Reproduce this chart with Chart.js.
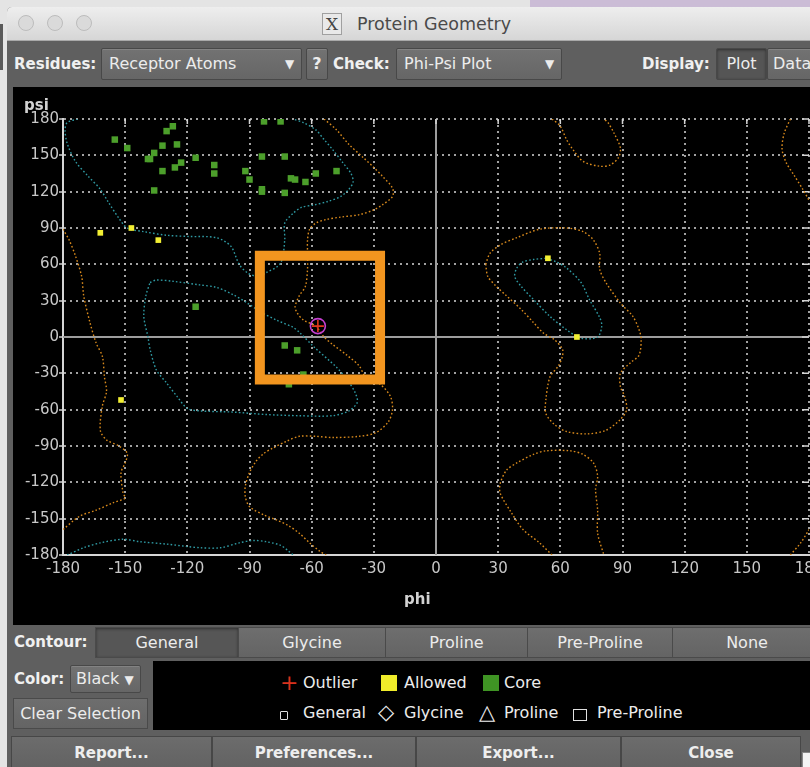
<!DOCTYPE html>
<html>
<head>
<meta charset="utf-8">
<title>Protein Geometry</title>
<script src="https://cdn.jsdelivr.net/npm/chart.js@4/dist/chart.umd.min.js"></script>
<style>
  html, body { margin: 0; padding: 0; width: 810px; height: 767px; overflow: hidden; background: #e4e4e4; font-family: "DejaVu Sans", sans-serif; }
  .a { position: absolute; box-sizing: border-box; }
  .lbl { color: #f0f0f0; font-weight: bold; font-size: 15px; white-space: nowrap; }
  .txt { color: #ececec; font-size: 16px; white-space: nowrap; }
  .box { background: linear-gradient(#727272, #666666); border: 1px solid #484848; border-radius: 2px; box-shadow: inset 0 1px 0 rgba(255,255,255,0.12); color: #ececec; font-size: 16px; white-space: nowrap; }
  .btn { background: linear-gradient(#6e6e6e, #646464); border: 1px solid #4a4a4a; color: #ececec; font-size: 16px; text-align: center; white-space: nowrap; }
  .sel { background: #565656; box-shadow: inset 0 1px 3px rgba(0,0,0,0.45); }
  .bbtn { background: linear-gradient(#6c6c6c, #626262); border: 1px solid #474747; color: #eeeeee; font-size: 15px; font-weight: bold; text-align: center; white-space: nowrap; }
</style>
</head>
<body>
<!-- desktop behind the window -->
<div class="a" style="left:0;top:24px;width:3px;height:46px;background:#5a5a5a"></div>
<div class="a" style="left:530px;top:0;width:280px;height:8px;background:#cbbcd6"></div>

<!-- window -->
<div class="a" style="left:7px;top:7px;width:820px;height:780px;background:#5f5f5f;border-radius:5px 5px 0 0"></div>
<div class="a" style="left:7px;top:7px;width:820px;height:34px;background:linear-gradient(#eeeeee,#d6d6d6);border-radius:5px 5px 0 0;border-bottom:1px solid #a9a9a9"></div>
<div class="a" style="left:18px;top:15px;width:16px;height:16px;border-radius:50%;background:#dadada;border:1px solid #bcbcbc"></div>
<div class="a" style="left:47px;top:15px;width:16px;height:16px;border-radius:50%;background:#dadada;border:1px solid #bcbcbc"></div>
<div class="a" style="left:76px;top:15px;width:16px;height:16px;border-radius:50%;background:#dadada;border:1px solid #bcbcbc"></div>
<div class="a" style="left:322px;top:13px;width:20px;height:22px;background:#e9e9e9;border:1px solid #a0a0a0;color:#444;font-family:'DejaVu Serif',serif;font-size:17px;line-height:20px;text-align:center">X</div>
<div class="a" style="left:357px;top:12px;height:24px;line-height:24px;color:#4a4a4a;font-size:17.5px">Protein Geometry</div>

<!-- toolbar -->
<div class="a lbl" style="left:14px;top:52px;line-height:24px">Residues:</div>
<div class="a box" style="left:101px;top:48px;width:201px;height:32px;line-height:30px;padding-left:7px">Receptor Atoms<span style="position:absolute;left:183px;font-size:12px">▼</span></div>
<div class="a box" style="left:306px;top:48px;width:22px;height:32px;line-height:30px;text-align:center;font-weight:bold">?</div>
<div class="a lbl" style="left:333px;top:52px;line-height:24px">Check:</div>
<div class="a box" style="left:396px;top:48px;width:166px;height:32px;line-height:30px;padding-left:7px">Phi-Psi Plot<span style="position:absolute;left:148px;font-size:12px">▼</span></div>
<div class="a lbl" style="left:642px;top:52px;line-height:24px">Display:</div>
<div class="a box sel" style="left:716px;top:48px;width:51px;height:32px;line-height:30px;text-align:center;background:#555">Plot</div>
<div class="a box" style="left:767px;top:48px;width:60px;height:32px;line-height:30px;padding-left:5px">Data</div>

<!-- plot panel -->
<div class="a" style="left:13px;top:87px;width:830px;height:538px;background:#000">
  <canvas id="rama" width="830" height="538" style="display:block"></canvas>
</div>

<!-- contour selector -->
<div class="a lbl" style="left:14px;top:630px;line-height:24px">Contour:</div>
<div class="a btn sel" style="left:95px;top:627px;width:144px;height:31px;line-height:29px">General</div>
<div class="a btn" style="left:238px;top:627px;width:148px;height:31px;line-height:29px">Glycine</div>
<div class="a btn" style="left:385px;top:627px;width:143px;height:31px;line-height:29px">Proline</div>
<div class="a btn" style="left:527px;top:627px;width:146px;height:31px;line-height:29px">Pre-Proline</div>
<div class="a btn" style="left:672px;top:627px;width:150px;height:31px;line-height:29px">None</div>

<!-- colour and selection -->
<div class="a lbl" style="left:14px;top:667px;line-height:24px">Color:</div>
<div class="a box" style="left:70px;top:665px;width:71px;height:28px;line-height:26px;padding-left:5px">Black <span style="font-size:12px">▼</span></div>
<div class="a btn" style="left:13px;top:698px;width:135px;height:31px;line-height:29px">Clear Selection</div>

<!-- legend -->
<div class="a" style="left:153px;top:661px;width:660px;height:69px;background:#000"></div>
<div class="a" style="left:280px;top:670px;color:#d8321e;font-size:22px;line-height:26px">+</div>
<div class="a txt" style="left:303px;top:671px;line-height:24px">Outlier</div>
<div class="a" style="left:381px;top:675px;width:16px;height:16px;background:#f0ec2a"></div>
<div class="a txt" style="left:404px;top:671px;line-height:24px">Allowed</div>
<div class="a" style="left:483px;top:675px;width:16px;height:16px;background:#3f9424"></div>
<div class="a txt" style="left:504px;top:671px;line-height:24px">Core</div>
<div class="a" style="left:280px;top:711px;width:8px;height:9px;border:1.5px solid #e0e0e0;border-radius:1px"></div>
<div class="a txt" style="left:303px;top:701px;line-height:24px">General</div>
<div class="a txt" style="left:378px;top:700px;line-height:24px;font-size:21px">◇</div>
<div class="a txt" style="left:404px;top:701px;line-height:24px">Glycine</div>
<div class="a txt" style="left:479px;top:700px;line-height:24px;font-size:21px">△</div>
<div class="a txt" style="left:504px;top:701px;line-height:24px">Proline</div>
<div class="a" style="left:573px;top:709px;width:14px;height:12px;border:1.5px solid #e0e0e0"></div>
<div class="a txt" style="left:597px;top:701px;line-height:24px">Pre-Proline</div>

<!-- dialog buttons -->
<div class="a bbtn" style="left:11px;top:736px;width:201px;height:34px;line-height:32px">Report...</div>
<div class="a bbtn" style="left:212px;top:736px;width:204px;height:34px;line-height:32px">Preferences...</div>
<div class="a bbtn" style="left:416px;top:736px;width:205px;height:34px;line-height:32px">Export...</div>
<div class="a bbtn" style="left:621px;top:736px;width:180px;height:34px;line-height:32px">Close</div>
<div class="a" style="left:802px;top:752px;width:10px;height:16px;background:#f4f4f4;border:1px solid #888"></div>

<script>
// Axis ticks (degrees)
const tickValues = [-180, -150, -120, -90, -60, -30, 0, 30, 60, 90, 120, 150, 180];

// General-case favoured (core) contour, [phi, psi]
const coreBeta = [[-173,180],[-178,177],[-179,171],[-178,160],[-174,145],[-168,133],[-162,122],[-158,111],[-153,98],[-149,90],[-141,87],[-130,84],[-119,83],[-106,82],[-99,75],[-95,60],[-91,53],[-86,50],[-82,53],[-75,61],[-73,80],[-73,94],[-69,102],[-65,107],[-59,109],[-52,112],[-46,116],[-42,122],[-40,128],[-41,135],[-45,144],[-50,155],[-54,163],[-58,171],[-64,177],[-69,180]];
const coreBetaWrap = [[-178,-180],[-170,-174],[-162,-170],[-151,-167],[-143,-169],[-130,-171],[-114,-174],[-104,-174],[-95,-170],[-88,-168],[-82,-169],[-75,-172],[-71,-177],[-69,-180]];
const coreAlpha = [[-138,45],[-135,47],[-127,46],[-114,43],[-106,41],[-98,35],[-91,28],[-84,20],[-77,14],[-69,8],[-66,4],[-59,-8],[-48,-25],[-43,-35],[-39,-46],[-38,-54],[-42,-61],[-50,-65],[-66,-65],[-82,-64],[-98,-62],[-114,-61],[-120,-59],[-125,-49],[-130,-38],[-135,-27],[-138,-10],[-139,0],[-141,17],[-140,34],[-138,45]];
const coreLeftAlpha = [[53,65],[47,64],[42,62],[39,57],[38,50],[41,42],[47,31],[55,17],[63,6],[70,-1],[78,0],[80,9],[79,16],[74,31],[70,45],[63,57],[58,62],[53,65]];

// General-case allowed contour, [phi, psi]
const allowedMain = [[-54,180],[-48,171],[-42,159],[-35,148],[-30,140],[-26,133],[-21,123],[-21,116],[-26,109],[-30,105],[-37,101],[-46,99],[-53,97],[-58,94],[-61,89],[-62,80],[-62,70],[-62,56],[-63,42],[-66,34],[-68,25],[-67,20],[-64,14],[-58,9],[-54,0],[-50,-6],[-43,-15],[-37,-24],[-34,-33],[-27,-39],[-22,-49],[-21,-60],[-23,-70],[-29,-79],[-37,-82],[-50,-83],[-58,-82],[-66,-82],[-72,-86],[-79,-92],[-83,-96],[-87,-103],[-90,-112],[-92,-123],[-92,-132],[-90,-140],[-83,-147],[-77,-151],[-71,-156],[-66,-162],[-61,-170],[-56,-177],[-53,-180]];
const allowedEdgeLeft = [[-180,89],[-177,80],[-174,67],[-171,50],[-170,34],[-167,12],[-164,-5],[-161,-16],[-160,-33],[-159,-45],[-161,-57],[-162,-77],[-159,-85],[-153,-90],[-149,-96],[-150,-104],[-152,-112],[-151,-129],[-150,-133],[-156,-137],[-164,-143],[-172,-148],[-180,-159]];
const allowedEdgeTopRight = [[171,180],[168,168],[167,155],[169,144],[173,133],[177,122],[180,113]];
const allowedEdgeBottomRight = [[171,-180],[176,-170],[180,-159]];
const allowedGammaTop = [[56,180],[60,174],[63,163],[66,155],[71,145],[79,141],[84,142],[88,148],[89,156],[86,168],[83,177],[81,180]];
const allowedGammaBottom = [[56,-180],[50,-170],[42,-159],[36,-144],[31,-129],[31,-121],[34,-110],[39,-104],[47,-97],[53,-94],[65,-94],[71,-97],[76,-104],[78,-115],[77,-126],[78,-143],[78,-162],[81,-180]];
const allowedLeftAlpha = [[24,60],[26,69],[31,76],[39,82],[50,89],[63,90],[71,87],[76,80],[79,69],[79,56],[82,45],[89,28],[95,17],[98,6],[99,-2],[98,-15],[94,-21],[89,-30],[89,-41],[91,-49],[92,-60],[89,-68],[82,-77],[73,-80],[63,-78],[57,-72],[53,-63],[53,-52],[55,-33],[59,-24],[61,-16],[61,-10],[57,-2],[52,3],[47,12],[41,23],[34,34],[29,42],[25,50],[24,60]];

// Residue phi/psi angles by classification
const coreResidues = [[-155,163],[-149,156],[-127,174],[-130,170],[-132,158],[-125,159],[-136,152],[-139,147],[-138,147],[-123,144],[-126,140],[-132,137],[-116,148],[-107,142],[-107,135],[-136,121],[-83,178],[-75,178],[-84,149],[-73,149],[-92,137],[-90,130],[-84,122],[-84,120],[-73,119],[-70,131],[-68,130],[-63,128],[-58,135],[-48,137],[-116,25],[-73,-7],[-67,-11],[-71,-39],[-64,-31]];
const allowedResidues = [[-162,86],[-147,90],[-134,80],[-152,-52],[54,65],[68,0]];
const outlierResidues = [[-57,9]];

// Current selection rectangle: phi range, psi range
const selectionPhi = [-85, -27];
const selectionPsi = [-35, 67];

const pts = a => a.map(([x, y]) => ({ x, y }));

const CORE_LINE = '#2f9aa3';
const ALLOWED_LINE = '#d98a1c';

function contour(data, color) {
  return {
    data: pts(data), showLine: true, pointRadius: 0, borderColor: color,
    borderWidth: 1.4, borderDash: [1.6, 2.2], tension: 0.3, fill: false, order: 3
  };
}

const selBox = [
  [selectionPhi[0], selectionPsi[0]], [selectionPhi[0], selectionPsi[1]],
  [selectionPhi[1], selectionPsi[1]], [selectionPhi[1], selectionPsi[0]],
  [selectionPhi[0], selectionPsi[0]]
];

const datasets = [
  { data: pts(selBox), showLine: true, pointRadius: 0, borderColor: '#f2951f', borderWidth: 10,
    borderCapStyle: 'square', borderJoinStyle: 'miter', tension: 0, fill: false, order: 0 },
  { data: pts(outlierResidues), pointStyle: 'circle', pointRadius: 7.5, pointBorderWidth: 1.6,
    pointBorderColor: '#c43fcf', pointBackgroundColor: 'rgba(0,0,0,0)', order: 0 },
  { data: pts(outlierResidues), pointStyle: 'cross', pointRadius: 6, pointBorderWidth: 1.6,
    pointBorderColor: '#e2371c', order: 0 },
  { data: pts(coreResidues), pointStyle: 'rect', pointRadius: 4.6, pointBorderWidth: 0,
    pointBackgroundColor: '#4c9f2b', order: 1 },
  { data: pts(allowedResidues), pointStyle: 'rect', pointRadius: 4, pointBorderWidth: 0,
    pointBackgroundColor: '#f2ef33', order: 1 },
  contour(coreBeta, CORE_LINE),
  contour(coreBetaWrap, CORE_LINE),
  contour(coreAlpha, CORE_LINE),
  contour(coreLeftAlpha, CORE_LINE),
  contour(allowedMain, ALLOWED_LINE),
  contour(allowedEdgeLeft, ALLOWED_LINE),
  contour(allowedEdgeTopRight, ALLOWED_LINE),
  contour(allowedEdgeBottomRight, ALLOWED_LINE),
  contour(allowedGammaTop, ALLOWED_LINE),
  contour(allowedGammaBottom, ALLOWED_LINE),
  contour(allowedLeftAlpha, ALLOWED_LINE)
];

// Zero axes, inner ticks on the top/right edges and the axis names
const frame = {
  id: 'frame',
  beforeDatasetsDraw(chart) {
    const { ctx, chartArea: a, scales: { x, y } } = chart;
    ctx.save();
    ctx.strokeStyle = '#9d9d9d';
    ctx.lineWidth = 2;
    const x0 = x.getPixelForValue(0), y0 = y.getPixelForValue(0);
    ctx.beginPath();
    ctx.moveTo(x0, a.top); ctx.lineTo(x0, a.bottom);
    ctx.moveTo(a.left, y0); ctx.lineTo(a.right, y0);
    ctx.stroke();
    ctx.strokeStyle = '#d4d4d4';
    ctx.lineWidth = 1.5;
    ctx.beginPath();
    x.ticks.forEach(t => { const p = x.getPixelForValue(t.value); ctx.moveTo(p, a.top); ctx.lineTo(p, a.top + 5); });
    y.ticks.forEach(t => { const p = y.getPixelForValue(t.value); ctx.moveTo(a.right - 7, p); ctx.lineTo(a.right, p); });
    ctx.stroke();
    ctx.restore();
  },
  afterDraw(chart) {
    const { ctx, chartArea: a } = chart;
    ctx.save();
    ctx.fillStyle = '#d2d2d2';
    ctx.font = 'bold 15px "DejaVu Sans"';
    ctx.textBaseline = 'alphabetic';
    ctx.textAlign = 'left';
    ctx.fillText('psi', a.left - 39, a.top - 9);
    ctx.fillText('phi', a.left + 341, a.bottom + 49);
    ctx.restore();
  }
};

const TICK_FONT = { family: 'DejaVu Sans', size: 15 };
const gridColor = c => (c.tick && c.tick.value === 0) ? 'rgba(0,0,0,0)' : 'rgba(190,190,190,0.85)';

new Chart(document.getElementById('rama'), {
  type: 'scatter',
  data: { datasets },
  plugins: [frame],
  options: {
    responsive: false,
    animation: false,
    devicePixelRatio: 1,
    events: [],
    layout: { padding: { left: 0, top: 32, right: 34, bottom: 0 } },
    plugins: { legend: { display: false }, tooltip: { enabled: false } },
    scales: {
      x: {
        type: 'linear', min: -180, max: 180,
        afterBuildTicks: s => { s.ticks = tickValues.map(v => ({ value: v })); },
        afterFit: s => { s.height = 70; },
        ticks: { color: '#c8c8c8', font: TICK_FONT, padding: 1, maxRotation: 0, autoSkip: false },
        grid: { color: gridColor, lineWidth: 2, tickLength: 4, tickColor: 'rgba(0,0,0,0)' },
        border: { display: true, color: '#d6d6d6', width: 2, dash: [2, 4] }
      },
      y: {
        type: 'linear', min: -180, max: 180,
        afterBuildTicks: s => { s.ticks = tickValues.map(v => ({ value: v })); },
        afterFit: s => { s.width = 50; },
        ticks: { color: '#c8c8c8', font: TICK_FONT, padding: 0, autoSkip: false },
        grid: { color: gridColor, lineWidth: 2, tickLength: 4, tickColor: '#cfcfcf', tickWidth: 1.5 },
        border: { display: true, color: '#d6d6d6', width: 2, dash: [2, 4] }
      }
    }
  }
});
</script>
</body>
</html>
